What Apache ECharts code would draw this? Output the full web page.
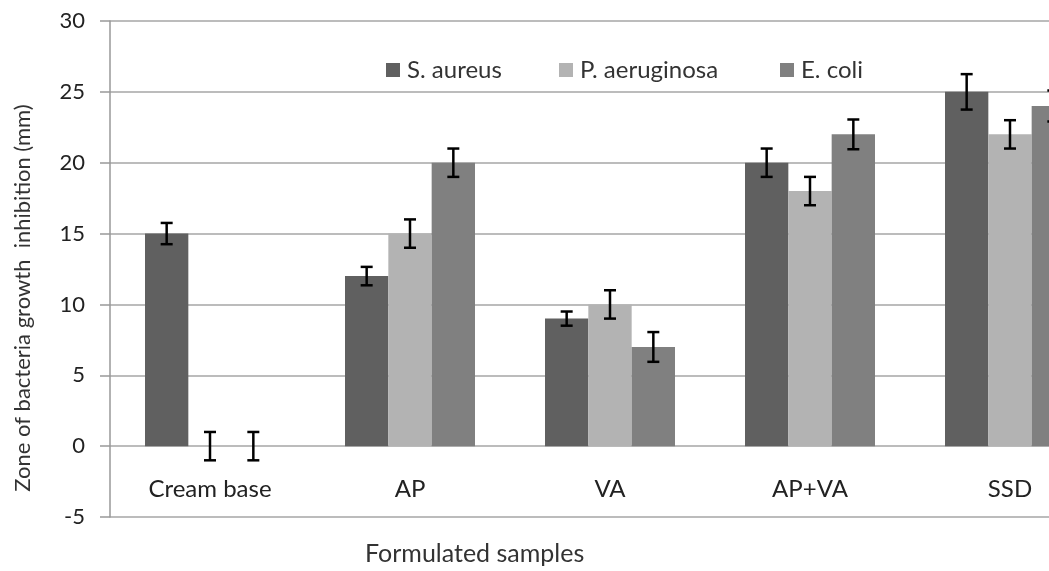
<!DOCTYPE html>
<html>
<head>
<meta charset="utf-8">
<script src="https://cdn.jsdelivr.net/npm/echarts@6/dist/echarts.min.js"></script>
<style>
html,body{margin:0;padding:0;background:#fff;}
#chart{width:1049px;height:571px;}
</style>
</head>
<body>
<div id="chart"></div>
<script>
const categories = ['Cream base', 'AP', 'VA', 'AP+VA', 'SSD'];
const seriesNames = ['S. aureus', 'P. aeruginosa', 'E. coli'];
const sAureus = [15, 12, 9, 20, 25];
const pAeruginosa = [0, 15, 10, 18, 22];
const eColi = [0, 20, 7, 22, 24];
const sAureusErr = [0.75, 0.65, 0.5, 1, 1.25];
const pAeruginosaErr = [1, 1, 1, 1, 1];
const eColiErr = [1, 1, 1.05, 1.05, 1.1];
const yTicks = [-5, 0, 5, 10, 15, 20, 25, 30];
const yTitle = 'Zone of bacteria growth  inhibition (mm)';
const xTitle = 'Formulated samples';

const colors = ['#606060', '#b3b3b3', '#808080'];
const values = [sAureus, pAeruginosa, eColi];
const errs = [sAureusErr, pAeruginosaErr, eColiErr];
const FONT = 'Lato, "Open Sans", sans-serif';
const CAT_GAP = 0.35;
const legendLefts = [386, 559, 780];

const barSeries = seriesNames.map((name, i) => ({
  name: name,
  type: 'bar',
  data: values[i],
  barGap: '0%',
  barCategoryGap: '35%',
  itemStyle: { color: colors[i] },
  emphasis: { disabled: true }
}));

const errData = [];
values.forEach((vals, si) => {
  vals.forEach((v, ci) => errData.push([ci, v, errs[si][ci], si]));
});

const errSeries = {
  type: 'custom',
  name: 'err',
  silent: true,
  z: 10,
  data: errData,
  encode: { x: 0, y: 1 },
  renderItem: function (params, api) {
    const ci = api.value(0), v = api.value(1), e = api.value(2), si = api.value(3);
    const band = api.size([1, 0])[0];
    const bw = band * (1 - CAT_GAP) / 3;
    const c = api.coord([ci, v]);
    const x = c[0] + (si - 1) * bw;
    const top = api.coord([ci, v + e])[1];
    const bot = api.coord([ci, v - e])[1];
    const cap = 6;
    const st = { stroke: '#000', lineWidth: 2.5 };
    return {
      type: 'group',
      children: [
        { type: 'line', shape: { x1: x, y1: top, x2: x, y2: bot }, style: st },
        { type: 'line', shape: { x1: x - cap, y1: top, x2: x + cap, y2: top }, style: st },
        { type: 'line', shape: { x1: x - cap, y1: bot, x2: x + cap, y2: bot }, style: st }
      ]
    };
  }
};

const legends = seriesNames.map((name, i) => ({
  data: [name],
  left: legendLefts[i],
  top: 58,
  padding: 0,
  itemWidth: 14,
  itemHeight: 14,
  icon: 'rect',
  selectedMode: false,
  textStyle: { fontFamily: FONT, fontSize: 24, color: '#333', padding: [0, 0, 0, 2] }
}));

const chart = echarts.init(document.getElementById('chart'), null, { renderer: 'canvas' });
chart.setOption({
  animation: false,
  backgroundColor: '#fff',
  textStyle: { fontFamily: FONT },
  title: {
    text: xTitle,
    left: 365,
    top: 541,
    padding: 0,
    textStyle: { fontFamily: FONT, fontSize: 25, fontWeight: 'normal', color: '#333' }
  },
  graphic: [{
    type: 'text',
    x: 23,
    y: 298,
    rotation: Math.PI / 2,
    style: {
      text: yTitle,
      font: '22px ' + FONT,
      fill: '#333',
      align: 'center',
      verticalAlign: 'middle'
    }
  }],
  grid: { left: 110, top: 21, width: 1000, height: 496, containLabel: false, outerBoundsMode: 'none' },
  legend: legends,
  xAxis: {
    type: 'category',
    data: categories,
    axisLine: { show: false, onZero: false },
    axisTick: { show: false },
    axisLabel: { margin: -40, fontSize: 24, color: '#222', fontFamily: FONT, interval: 0 },
    splitLine: { show: false }
  },
  yAxis: {
    type: 'value',
    min: yTicks[0],
    max: yTicks[yTicks.length - 1],
    interval: 5,
    axisLine: { show: true, onZero: false, lineStyle: { color: '#999', width: 1.5 } },
    axisTick: { show: true, inside: false, length: 10, lineStyle: { color: '#999', width: 1.5 } },
    axisLabel: { margin: 25, fontSize: 22, color: '#222', fontFamily: FONT },
    splitLine: { show: true, lineStyle: { color: '#a6a6a6', width: 1.5 } }
  },
  series: barSeries.concat([errSeries])
});
</script>
</body>
</html>
